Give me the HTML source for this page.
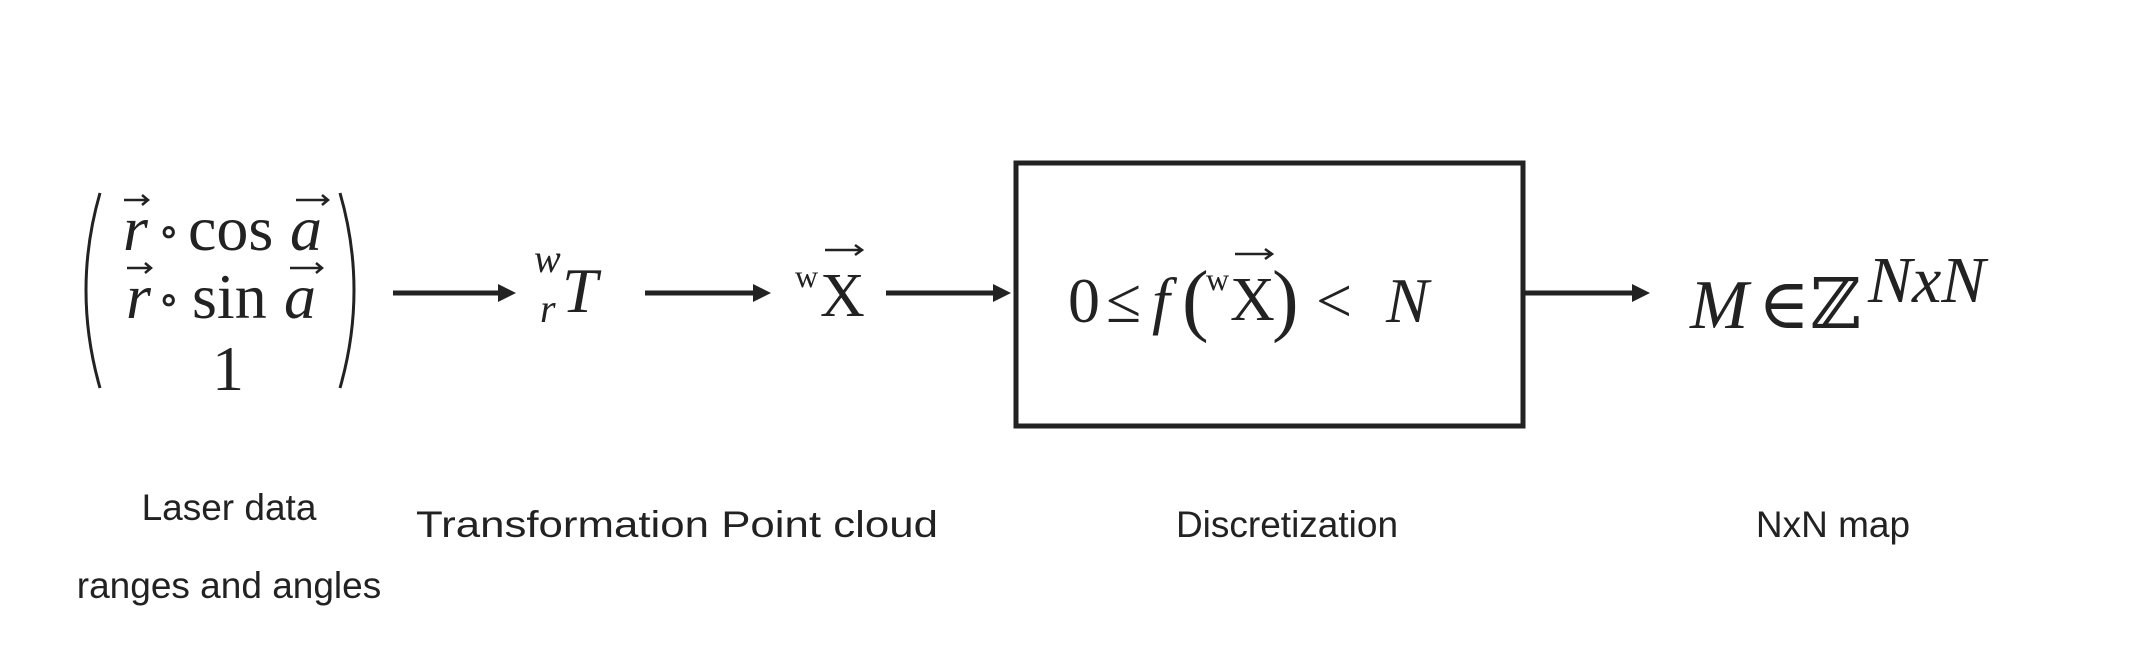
<!DOCTYPE html>
<html><head><meta charset="utf-8"><style>
html,body{margin:0;padding:0;background:#fff;}
svg{display:block;}
.m{font-family:"Liberation Serif","DejaVu Serif",serif;fill:#222;}
.l{font-family:"Liberation Sans",sans-serif;fill:#222;font-size:37px;}
.va{stroke:#222;stroke-width:2.5;fill:none;}
</style></head><body>
<svg width="2137" height="671" viewBox="0 0 2137 671">
<g>
<path d="M100,193 Q72,290 100,388" fill="none" stroke="#222" stroke-width="3"/>
<path d="M340,193 Q368,290 340,388" fill="none" stroke="#222" stroke-width="3"/>
<text class="m" x="123" y="250" font-size="64" font-style="italic">r</text>
<path class="va" d="M124,200 L148,200 M142,195 L148,200 L142,205"/>
<text class="m" x="158" y="246" font-size="44">∘</text>
<text class="m" x="188" y="250" font-size="64">cos</text>
<text class="m" x="290" y="250" font-size="64" font-style="italic">a</text>
<path class="va" d="M296,200 L328,200 M322,195 L328,200 L322,205"/>
<text class="m" x="126" y="318" font-size="64" font-style="italic">r</text>
<path class="va" d="M127,268 L151,268 M145,263 L151,268 L145,273"/>
<text class="m" x="158" y="314" font-size="44">∘</text>
<text class="m" x="192" y="318" font-size="64">sin</text>
<text class="m" x="284" y="318" font-size="64" font-style="italic">a</text>
<path class="va" d="M290,268 L322,268 M316,263 L322,268 L316,273"/>
<text class="m" x="212" y="390" font-size="64">1</text>
</g>
<g><line x1="393" y1="293" x2="500" y2="293" stroke="#222" stroke-width="5"/><path d="M498,284 L516,293 L498,302 z" fill="#222"/></g>
<g>
<text class="m" x="534" y="272" font-size="40" font-style="italic">w</text>
<text class="m" x="540" y="322" font-size="40" font-style="italic">r</text>
<text class="m" x="562" y="312" font-size="64" font-style="italic">T</text>
</g>
<g><line x1="645" y1="293" x2="755" y2="293" stroke="#222" stroke-width="5"/><path d="M753,284 L771,293 L753,302 z" fill="#222"/></g>
<g>
<text class="m" x="795" y="287" font-size="32">w</text>
<text class="m" x="820" y="316" font-size="62">X</text>
<path class="va" d="M825,250 L862,250 M855,245 L862,250 L855,255"/>
</g>
<g><line x1="886" y1="293" x2="995" y2="293" stroke="#222" stroke-width="5"/><path d="M993,284 L1011,293 L993,302 z" fill="#222"/></g>
<rect x="1016" y="163" width="507" height="263" fill="none" stroke="#222" stroke-width="5"/>
<g>
<text class="m" x="1068" y="322" font-size="64">0</text>
<text class="m" x="1106" y="322" font-size="64">≤</text>
<text class="m" x="1152" y="322" font-size="64" font-style="italic">f</text>
<text class="m" x="1182" y="326" font-size="80">(</text>
<text class="m" x="1206" y="290" font-size="32">w</text>
<text class="m" x="1230" y="320" font-size="62">X</text>
<path class="va" d="M1235,254 L1272,254 M1265,249 L1272,254 L1265,259"/>
<text class="m" x="1272" y="326" font-size="80">)</text>
<text class="m" x="1316" y="322" font-size="64">&lt;</text>
<text class="m" x="1386" y="322" font-size="64" font-style="italic">N</text>
</g>
<g><line x1="1524" y1="293" x2="1634" y2="293" stroke="#222" stroke-width="5"/><path d="M1632,284 L1650,293 L1632,302 z" fill="#222"/></g>
<g>
<text class="m" x="1690" y="328" font-size="70" font-style="italic">M</text>
<text class="m" x="1758" y="328" font-size="70">∈</text>
<text class="m" x="1810" y="328" font-size="70">ℤ</text>
<text class="m" x="1868" y="302" font-size="66" font-style="italic">NxN</text>
</g>
<text class="l" x="229" y="520" text-anchor="middle">Laser data</text>
<text class="l" x="229" y="598" text-anchor="middle">ranges and angles</text>
<text class="l" x="416" y="537" textLength="522" lengthAdjust="spacingAndGlyphs">Transformation Point cloud</text>
<text class="l" x="1287" y="537" text-anchor="middle">Discretization</text>
<text class="l" x="1833" y="537" text-anchor="middle">NxN map</text>
</svg>
</body></html>
